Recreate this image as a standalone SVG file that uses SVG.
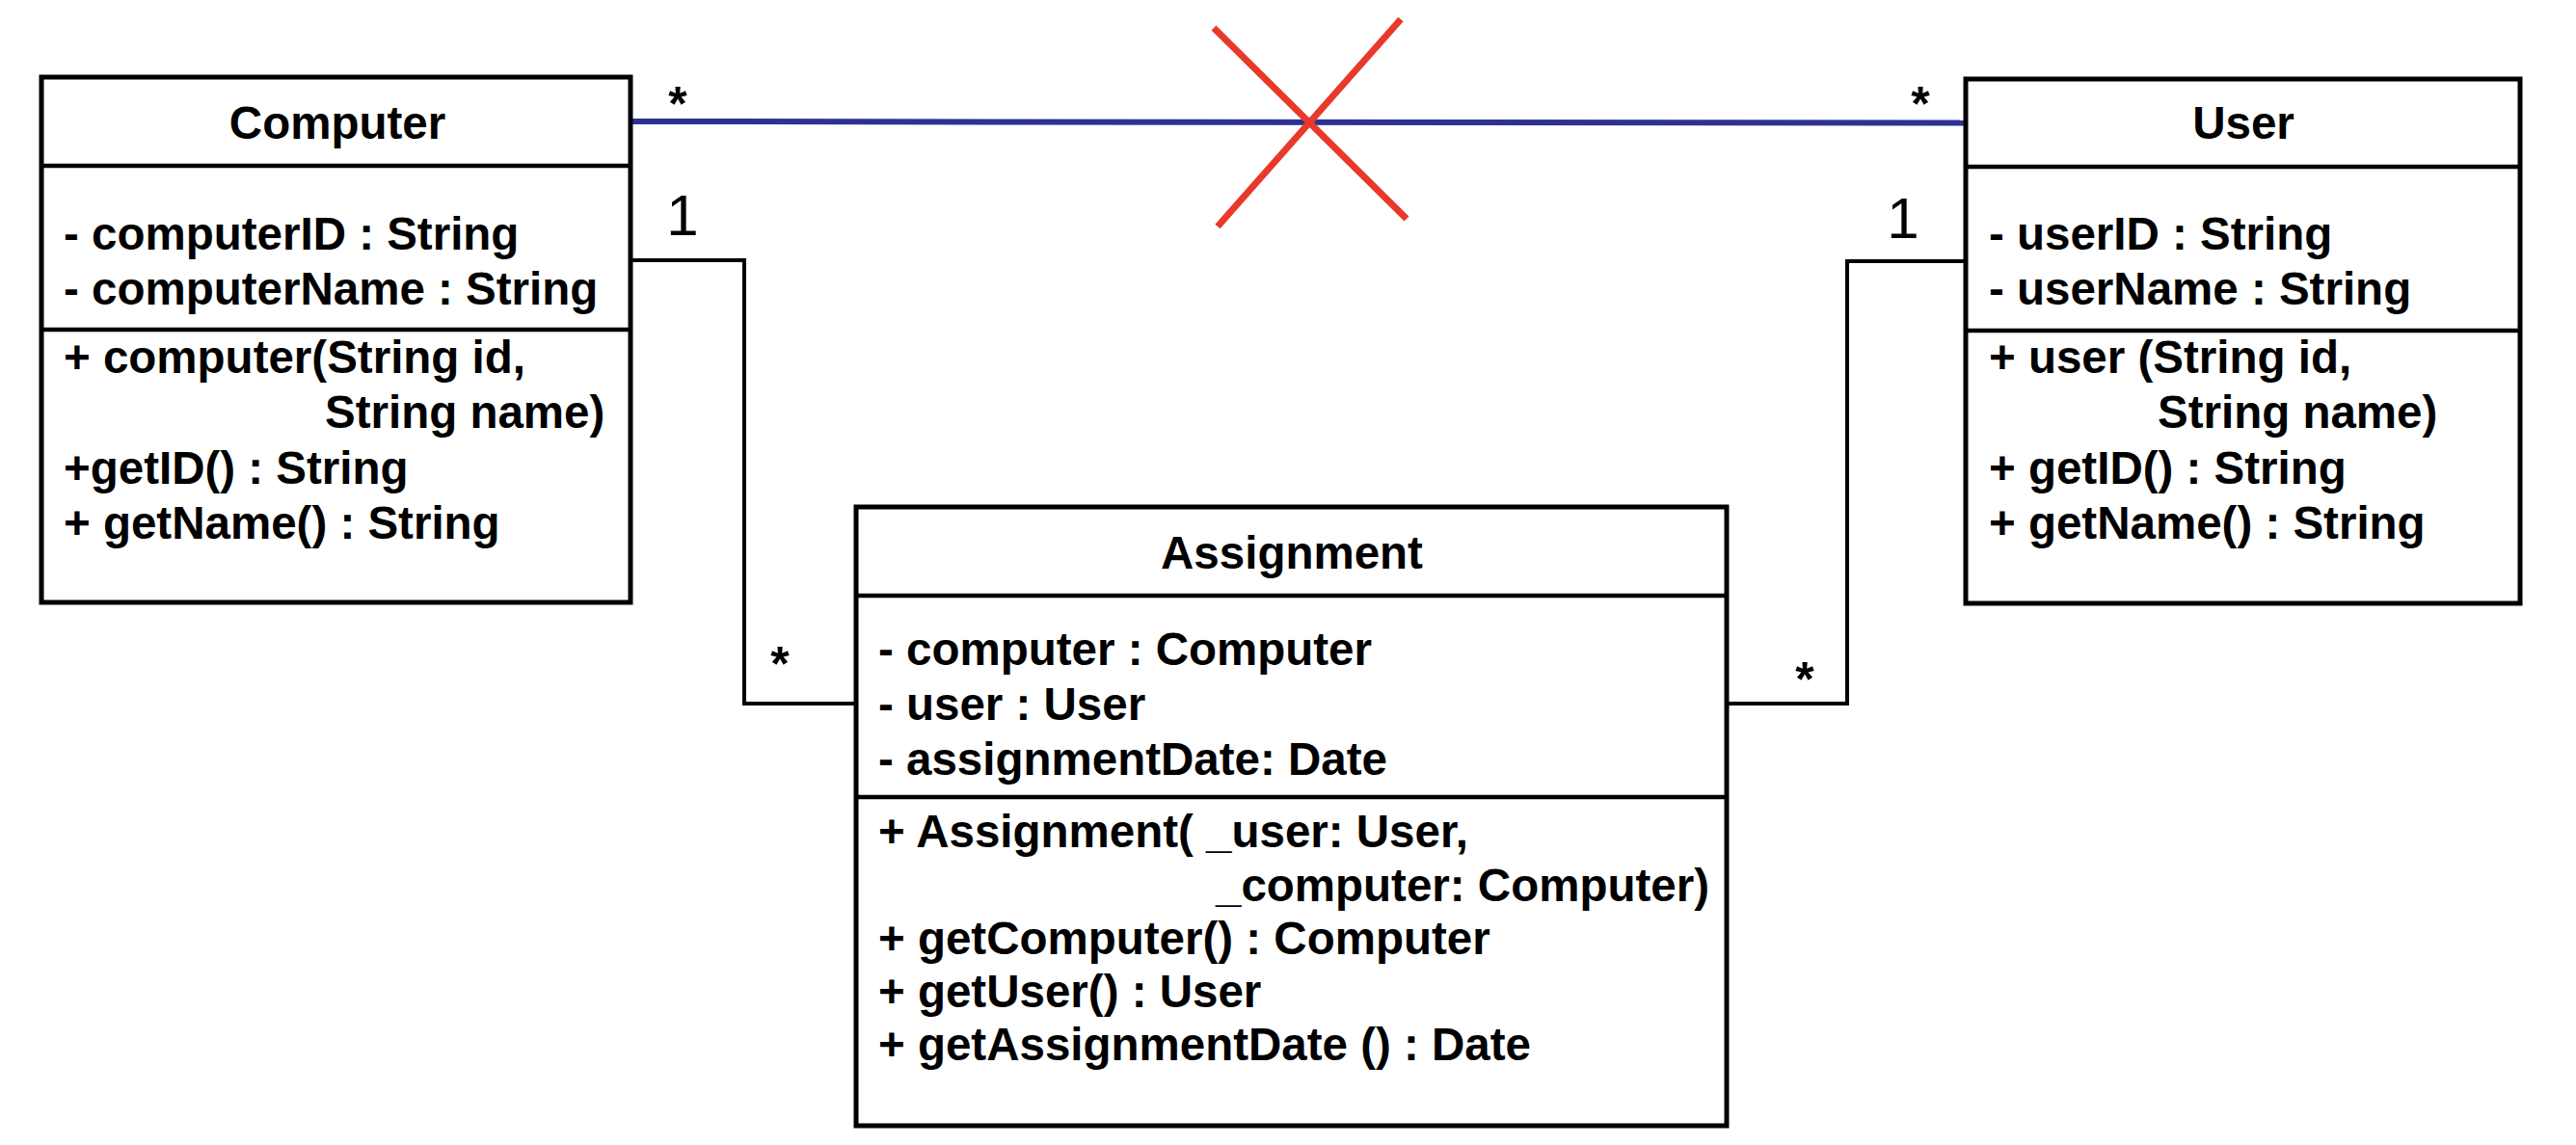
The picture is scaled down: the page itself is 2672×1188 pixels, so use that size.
<svg xmlns="http://www.w3.org/2000/svg" width="2672" height="1188" viewBox="0 0 2672 1188">
<style>
.box{fill:#fff;stroke:#000;stroke-width:5}
.div{stroke:#000;stroke-width:4.5}
.t{font-family:"Liberation Sans",Arial,sans-serif;font-weight:bold;font-size:47.5px;fill:#000}
.ttl{text-anchor:middle}
.mult{font-family:"Liberation Sans",Arial,sans-serif;font-weight:bold;font-size:50px;fill:#000;text-anchor:middle}
.one{font-family:"Liberation Sans",Arial,sans-serif;font-size:60px;fill:#000;text-anchor:middle}
.conn{fill:none;stroke:#000;stroke-width:4}
</style>
<rect width="2672" height="1188" fill="#fff"/>
<g id="connectors">
<line x1="654" y1="126" x2="2039" y2="127.5" stroke="#2E3192" stroke-width="6"/>
<polyline class="conn" points="654,270 772,270 772,730 888,730"/>
<polyline class="conn" points="1791,730 1916,730 1916,271 2039,271"/>
<line x1="1259" y1="29" x2="1459" y2="227" stroke="#E8392A" stroke-width="7"/>
<line x1="1453" y1="20" x2="1263" y2="235" stroke="#E8392A" stroke-width="7"/>
<text class="mult" x="703" y="125">*</text>
<text class="mult" x="1992" y="125">*</text>
<text class="mult" x="809" y="706">*</text>
<text class="mult" x="1872" y="722">*</text>
<text class="one" x="708" y="244">1</text>
<text class="one" x="1974" y="247">1</text>
</g>
<g id="computer">
<rect class="box" x="43" y="80" width="611" height="545"/>
<line class="div" x1="43" y1="172" x2="654" y2="172"/>
<line class="div" x1="43" y1="342" x2="654" y2="342"/>
<text class="t ttl" x="350" y="144">Computer</text>
<text class="t" x="66" y="259">- computerID : String</text>
<text class="t" x="66" y="316">- computerName : String</text>
<text class="t" x="66" y="387">+ computer(String id,</text>
<text class="t" x="337" y="444">String name)</text>
<text class="t" x="66" y="502">+getID() : String</text>
<text class="t" x="66" y="559">+ getName() : String</text>
</g>
<g id="user">
<rect class="box" x="2039" y="82" width="575" height="544"/>
<line class="div" x1="2039" y1="173" x2="2614" y2="173"/>
<line class="div" x1="2039" y1="343" x2="2614" y2="343"/>
<text class="t ttl" x="2327" y="144">User</text>
<text class="t" x="2063" y="259">- userID : String</text>
<text class="t" x="2063" y="316">- userName : String</text>
<text class="t" x="2063" y="387">+ user (String id,</text>
<text class="t" x="2238" y="444">String name)</text>
<text class="t" x="2063" y="502">+ getID() : String</text>
<text class="t" x="2063" y="559">+ getName() : String</text>
</g>
<g id="assignment">
<rect class="box" x="888" y="526" width="903" height="642"/>
<line class="div" x1="888" y1="618" x2="1791" y2="618"/>
<line class="div" x1="888" y1="827" x2="1791" y2="827"/>
<text class="t ttl" x="1340" y="590">Assignment</text>
<text class="t" x="911" y="690">- computer : Computer</text>
<text class="t" x="911" y="747">- user : User</text>
<text class="t" x="911" y="804">- assignmentDate: Date</text>
<text class="t" x="911" y="879">+ Assignment( _user: User,</text>
<text class="t" x="1261" y="935">_computer: Computer)</text>
<text class="t" x="911" y="990">+ getComputer() : Computer</text>
<text class="t" x="911" y="1045">+ getUser() : User</text>
<text class="t" x="911" y="1100">+ getAssignmentDate () : Date</text>
</g>
</svg>
